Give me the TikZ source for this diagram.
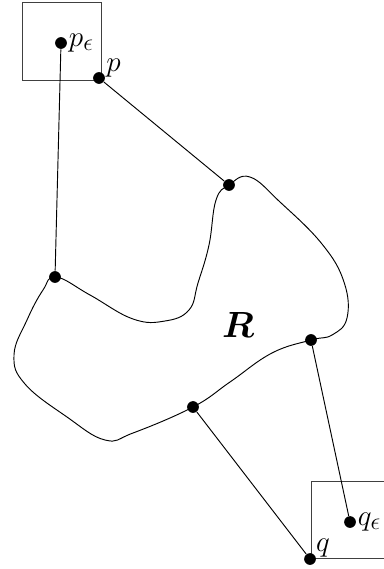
\documentclass[tikz,border=0pt]{standalone}
\usepackage{amsmath}
\tikzset{
  pt/.style={circle,fill=black,inner sep=0pt,minimum size=10pt},
  lbl/.style={font=\Huge,inner sep=1pt}
}
\begin{document}
\begin{tikzpicture}[thick,x=0.03cm,y=-0.03cm]
            \useasboundingbox (0,0) rectangle (383,569);
            % the two small squares
            \draw[thin,color=black!75] (22,2) rectangle (101,80);
            \draw[thin,color=black!75] (311,481) rectangle (395,558);
            % the region R
            \draw[line width=0.8pt] plot[smooth cycle,tension=0.7] coordinates {
              (56,277) (90,295) (133,319) (165,321) (189,310) (198,283) (209,245)
              (216,200) (229,185) (250,177) (280,202) (322,244) (344,282) (347,318)
              (332,335) (311,340) (272,353) (230,382) (193,407) (133,433) (105,440)
              (67,417) (25,384) (14,355) (27,320) (43,290)};
            \node[font=\Huge,scale=1.25] at (238,325) {$\boldsymbol{R}$};
            % the points
            \node[pt] (pe) at (61,43) {};
            \node[pt] (p) at (99,78) {};
            \node[pt] (a) at (229,185) {};
            \node[pt] (b) at (55,277) {};
            \node[pt] (c) at (311,340) {};
            \node[pt] (d) at (193,407) {};
            \node[pt] (qe) at (350,522) {};
            \node[pt] (q) at (310,559) {};
            \node[lbl,right] at (pe.east) {$p_\epsilon$};
            \node[lbl,anchor=base west] at ([xshift=1pt,yshift=2pt]p.north east) {$p$};
            \node[lbl,right] at (qe.east) {$q_\epsilon$};
            \node[lbl,anchor=base west] at ([xshift=0pt,yshift=3pt]q.north east) {$q$};
            \draw[line width=0.8pt] (p)--(a);
            \draw[line width=0.8pt] (pe)--(b);
            \draw[line width=0.8pt] (c)--(qe);
            \draw[line width=0.8pt] (d)--(q);
        \end{tikzpicture}
\end{document}
